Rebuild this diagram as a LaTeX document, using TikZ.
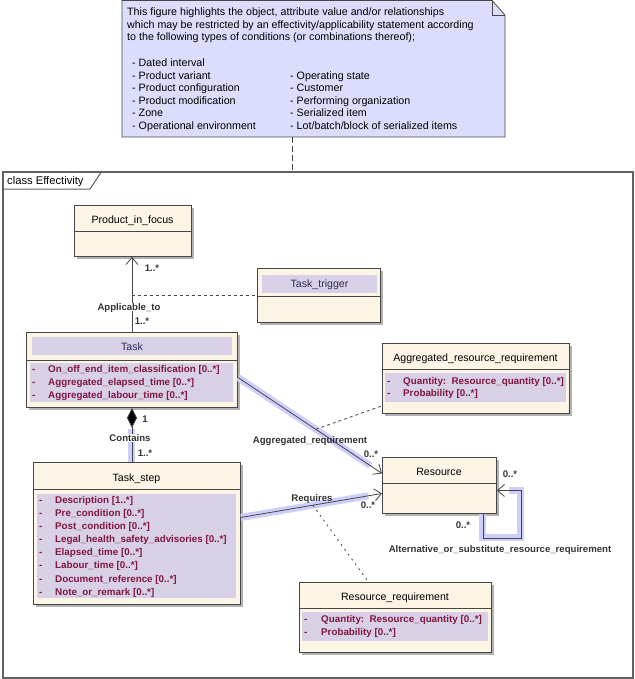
\documentclass[tikz,border=0pt]{standalone}
\usepackage{fontspec}
\setmainfont{Liberation Sans}
\usetikzlibrary{arrows.meta,shadows}
\definecolor{notefill}{RGB}{220,220,252}
\definecolor{clsfill}{RGB}{252,244,228}
\definecolor{bandfill}{RGB}{216,208,230}
\definecolor{attrcol}{RGB}{128,24,64}
\definecolor{hdrcol}{RGB}{45,45,90}
\definecolor{hilite}{RGB}{206,206,250}
\definecolor{edgecol}{RGB}{70,70,70}
\tikzset{
  umlclass/.style={draw=edgecol,fill=clsfill,line width=0.9pt,anchor=north west,inner sep=0pt,
    drop shadow={shadow xshift=2.5pt,shadow yshift=-2.5pt,fill=black!30,opacity=1}},
  clsname/.style={inner sep=0pt,text height=7.6pt,text depth=0pt,font=\fontsize{10.6}{12}\selectfont},
  notetxt/.style={anchor=base west,inner sep=0pt,font=\fontsize{10.7}{12}\selectfont},
  attr/.style={anchor=west,inner sep=0pt,text height=6.9pt,text depth=0pt,text=attrcol,
    font=\fontsize{9.8}{11}\selectfont\bfseries},
  lbl/.style={inner sep=1pt,text height=6.9pt,text depth=0pt,text=black!80,
    font=\fontsize{9.6}{11}\selectfont\bfseries},
  assoc/.style={draw=edgecol,line width=0.8pt,-{Straight Barb[length=7pt,width=12pt]}},
  band/.style={draw=hilite,line width=7pt},
  sep/.style={draw=edgecol,line width=0.9pt},
  hdrband/.style={fill=bandfill},
}
\begin{document}
\begin{tikzpicture}[x=1pt,y=-1pt]
  \useasboundingbox (0,0) rectangle (634,679);
  % note
  \draw[edgecol,fill=notefill,line width=0.8pt] (122,0.5) -- (492,0.5) -- (505,15) -- (505,137) -- (122,137) -- cycle;
  \draw[edgecol,line width=0.6pt] (492,0.5) -- (492,15) -- (505,15);
  \node[notetxt] (np1) at (127,15.5) {This figure highlights the object, attribute value and/or relationships};
  \node[notetxt] (np2) at (127,28.5) {which may be restricted by an effectivity/applicability statement according};
  \node[notetxt] (np3) at (127,40.5) {to the following types of conditions (or combinations thereof);};
  \foreach \txt [count=\i] in {Dated interval,Product variant,Product configuration,Product modification,Zone,Operational environment}
    \node[notetxt] (nl-\i) at (132,{66.5+12.6*(\i-1)}) {- \txt};
  \foreach \txt [count=\i] in {Operating state,Customer,Performing organization,Serialized item,Lot/batch/block of serialized items}
    \node[notetxt] (nr-\i) at (290,{79.1+12.6*(\i-1)}) {- \txt};
  \coordinate (notefoot) at (292,137);

  % frame
  \node[draw=black!62,line width=1.8pt,anchor=north west,minimum width=630,minimum height=506,inner sep=0pt] (frame) at (2,171) {};
  \draw[black!62,line width=1pt] (2,189) -- (90,189) -- (102,171);
  \node[anchor=west,inner sep=0pt,text height=7.6pt,text depth=0pt,font=\fontsize{11.2}{12}\selectfont] (tab) at (7,181) {class Effectivity};
  \draw[edgecol,line width=0.9pt,dash pattern=on 6pt off 3pt] (notefoot) -- (notefoot |- frame.north);

  % Product_in_focus
  \node[umlclass,minimum width=117,minimum height=51] (pif) at (74,205) {};
  \node[clsname] (pif-n) at (132.5,220) {Product\_in\_focus};
  \draw[sep] (74,231) -- (191,231);

  % Task_trigger
  \node[umlclass,minimum width=123,minimum height=54] (trig) at (257,268) {};
  \fill[hdrband] (262,275) rectangle (377,293);
  \node[clsname,text=hdrcol] (trig-n) at (319.5,284) {Task\_trigger};
  \draw[sep] (257,296) -- (380,296);

  % Task
  \node[umlclass,minimum width=211,minimum height=75] (task) at (26,332) {};
  \fill[hdrband] (32,337) rectangle (232,355);
  \node[clsname,text=hdrcol] (task-n) at (132,347) {Task};
  \draw[sep] (26,360) -- (237,360);
  \fill[hdrband] (30,363) rectangle (233,402);
  \foreach \txt [count=\i] in {On\_off\_end\_item\_classification [0..*],Aggregated\_elapsed\_time [0..*],Aggregated\_labour\_time [0..*]}{
    \node[attr] (task-d\i) at (32,{369+13*(\i-1)}) {-};
    \node[attr] (task-a\i) at (48,{369+13*(\i-1)}) {\txt};
  }

  % Aggregated_resource_requirement
  \node[umlclass,minimum width=187,minimum height=70] (aggreq) at (382,343) {};
  \node[clsname] (aggreq-n) at (475.5,358) {Aggregated\_resource\_requirement};
  \draw[sep] (382,369) -- (569,369);
  \fill[hdrband] (385,373) rectangle (566,402);
  \node[attr] (aggreq-d1) at (387,381) {-};
  \node[attr] (aggreq-a1) at (403,381) {Quantity:\ \ Resource\_quantity [0..*]};
  \node[attr] (aggreq-d2) at (387,393.5) {-};
  \node[attr] (aggreq-a2) at (403,393.5) {Probability [0..*]};

  % Task_step
  \node[umlclass,minimum width=207,minimum height=142] (tstep) at (33,462) {};
  \node[clsname] (tstep-n) at (136.5,478) {Task\_step};
  \draw[sep] (33,489) -- (240,489);
  \fill[hdrband] (37,494) rectangle (236,598);
  \foreach \txt [count=\i] in {Description [1..*],Pre\_condition [0..*],Post\_condition [0..*],
      Legal\_health\_safety\_advisories [0..*],Elapsed\_time [0..*],Labour\_time [0..*],
      Document\_reference [0..*],Note\_or\_remark [0..*]}{
    \node[attr] (tstep-d\i) at (39,{500+13.1*(\i-1)}) {-};
    \node[attr] (tstep-a\i) at (55,{500+13.1*(\i-1)}) {\txt};
  }

  % Resource
  \node[umlclass,minimum width=114,minimum height=56] (res) at (382,457) {};
  \node[clsname] (res-n) at (439,472) {Resource};
  \draw[sep] (382,483) -- (496,483);

  % Resource_requirement
  \node[umlclass,minimum width=192,minimum height=70] (resreq) at (299,582) {};
  \node[clsname] (resreq-n) at (395,597) {Resource\_requirement};
  \draw[sep] (299,608) -- (491,608);
  \fill[hdrband] (302,612) rectangle (488,641);
  \node[attr] (resreq-d1) at (304,619) {-};
  \node[attr] (resreq-a1) at (321,619) {Quantity:\ \ Resource\_quantity [0..*]};
  \node[attr] (resreq-d2) at (304,632) {-};
  \node[attr] (resreq-a2) at (321,632) {Probability [0..*]};

  % highlight bands
  \draw[band] ([yshift=-21pt]task.south) -- (task.south |- tstep.north);
  \draw[band,shorten >=14pt] ([yshift=-7.5pt]task.east) -- ([yshift=12pt]res.west);
  \draw[band,shorten >=14pt] ([yshift=16pt]tstep.east) -- ([yshift=-8pt]res.west);
  \draw[band,shorten >=12pt] ([xshift=-14pt]res.south east) -- ++(0,24) -| ([xshift=24pt,yshift=-5pt]res.east) -- ([yshift=-5pt]res.east);

  % Applicable_to
  \draw[assoc] (task.north) -- coordinate[pos=0.487] (appmid) (task.north |- pif.south);
  \draw[edgecol,line width=0.8pt,dash pattern=on 3pt off 3pt] (appmid) -- (trig.west);
  \node[lbl,fill=white] (app-l) at (129,307) {Applicable\_to};
  \node[lbl] (app-m1) at (152,268) {1..*};
  \node[lbl] (app-m2) at (142,321) {1..*};

  % Contains
  \draw[draw=edgecol,line width=0.8pt,{Diamond[length=20pt,width=10pt,fill=black]}-] (task.south) -- (task.south |- tstep.north);
  \node[lbl,fill=white] (con-l) at (130,438) {Contains};
  \node[lbl] (con-m1) at (145,419) {1};
  \node[lbl] (con-m2) at (145,453) {1..*};

  % Aggregated_requirement
  \draw[assoc] ([yshift=-7.5pt]task.east) -- coordinate[pos=0.54] (aggmid) ([yshift=12pt]res.west);
  \draw[edgecol,line width=0.8pt,dash pattern=on 3pt off 3pt] (aggmid) -- ([yshift=8pt]aggreq.south west);
  \node[lbl] (agg-l) at (310,440.5) {Aggregated\_requirement};
  \node[lbl] (agg-m) at (371,454) {0..*};

  % Requires
  \draw[assoc] ([yshift=16pt]tstep.east) -- coordinate[pos=0.51] (reqmid) ([yshift=-8pt]res.west);
  \draw[edgecol,line width=0.8pt,dash pattern=on 2pt off 4pt] (reqmid) -- ([xshift=-27pt]resreq.north);
  \node[lbl] (req-l) at (312,498) {Requires};
  \node[lbl] (req-m) at (368,505) {0..*};

  % Alternative_or_substitute_resource_requirement
  \draw[assoc] ([xshift=-14pt]res.south east) -- ++(0,24) -| ([xshift=24pt,yshift=-5pt]res.east) -- ([yshift=-5pt]res.east);
  \node[lbl] (alt-m1) at (510,474) {0..*};
  \node[lbl] (alt-m2) at (463,525) {0..*};
  \node[lbl] (alt-l) at (500,549) {Alternative\_or\_substitute\_resource\_requirement};
\end{tikzpicture}
\end{document}
